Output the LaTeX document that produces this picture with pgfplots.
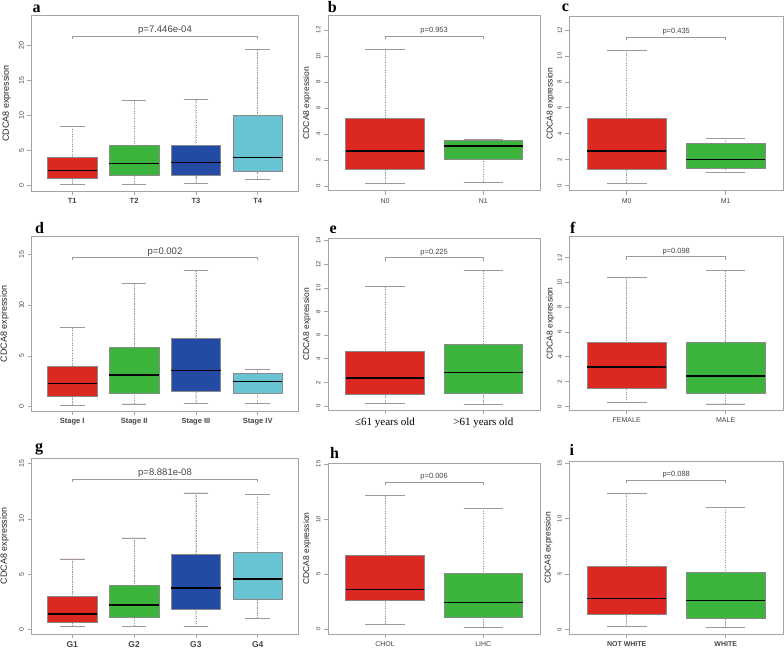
\documentclass[border=0pt]{standalone}
\usepackage{fontspec}
\setmainfont{Liberation Sans}
\newfontfamily\seriffont{Liberation Serif}
\usepackage{pgfplots}
\pgfplotsset{compat=1.18}
\usepgfplotslibrary{statistics}
\newcommand\fs[1]{\fontsize{#1}{#1}\selectfont}
\definecolor{cred}{HTML}{DC2823}
\definecolor{cgreen}{HTML}{3CB43C}
\definecolor{cblue}{HTML}{234BA5}
\definecolor{ccyan}{HTML}{69C3D2}
\definecolor{framegray}{HTML}{A8A39D}
\definecolor{whiskgray}{HTML}{9A9A9A}
\definecolor{boxgray}{HTML}{8A8A8A}
\definecolor{txtgray}{HTML}{454545}
\tikzset{
  whiskline/.style={draw=whiskgray, line width=0.7pt, dash pattern=on 1.2pt off 1.3pt},
  capline/.style={draw=whiskgray, line width=0.9pt, solid},
  brk/.style={draw=whiskgray, line width=0.8pt, solid},
  plab/.style={font=\seriffont\bfseries\fs{16}, anchor=base west, inner sep=0pt},
}
\pgfplotsset{
  boxplot/draw/lower whisker/.code={%
    \draw[whiskline] (boxplot cs:\pgfplotsboxplotvalue{lower whisker}) -- (boxplot cs:\pgfplotsboxplotvalue{lower quartile});
    \draw[capline] (boxplot whisker cs:\pgfplotsboxplotvalue{lower whisker},0) -- (boxplot whisker cs:\pgfplotsboxplotvalue{lower whisker},1);
  },
  boxplot/draw/upper whisker/.code={%
    \draw[whiskline] (boxplot cs:\pgfplotsboxplotvalue{upper whisker}) -- (boxplot cs:\pgfplotsboxplotvalue{upper quartile});
    \draw[capline] (boxplot whisker cs:\pgfplotsboxplotvalue{upper whisker},0) -- (boxplot whisker cs:\pgfplotsboxplotvalue{upper whisker},1);
  },
  rbase/.style={
    scale only axis, anchor=north west, clip=false,
    axis line style={draw=framegray, line width=0.9pt},
    tick style={draw=framegray, line width=0.7pt},
    tick align=outside, major tick length=4pt,
    xtick pos=left, ytick pos=left,
    /pgf/number format/assume math mode=true,
    yticklabel style={rotate=90, anchor=south, text=txtgray},
    xticklabel style={text=txtgray},
    boxplot/draw direction=y,
    boxplot/box extend=0.8, boxplot/whisker extend=0.4,
    boxplot/every median/.style={draw=black, line width=1.5pt},
    ylabel={CDCA8 expression},
  },
  ylab/.style 2 args={every axis y label/.style={at={(axis description cs:0,0.5)}, xshift=-#1, rotate=90, anchor=center, font=\fs{#2}, text=black!85}},
  wide/.style={rbase, width=267pt, xmin=0.34, xmax=4.66, xtick={1,2,3,4},
    yticklabel style={font=\fs{7}}, xticklabel style={font=\bfseries\fs{7.5}}},
  narrow/.style={rbase, xmin=0.42, xmax=2.58, xtick={1,2},
    yticklabel style={font=\fs{6}}, xticklabel style={font=\fs{7}}},
}
\tikzset{
  pbig/.style={font=\fs{9.5}, text=txtgray, anchor=base, yshift=3.3pt, inner sep=0pt},
  psmall/.style={font=\fs{7.5}, text=txtgray, anchor=base, yshift=3.5pt, inner sep=0pt},
}
\begin{document}
\begin{tikzpicture}
\useasboundingbox (0,0) rectangle (784pt,649pt);

% ---------- a ----------
\begin{axis}[wide, at={(31.5pt,633.3pt)}, height=175.3pt, ymin=-0.76, ymax=24.29,
  ytick={0,5,10,15,20}, xticklabels={T1,T2,T3,T4}, ylab={25pt}{9}]
\addplot[fill=cred, draw=boxgray, boxplot prepared={draw position=1, lower whisker=0.2, lower quartile=1.0, median=2.2, upper quartile=4.05, upper whisker=8.49}] coordinates {};
\addplot[fill=cgreen, draw=boxgray, boxplot prepared={draw position=2, lower whisker=0.2, lower quartile=1.43, median=3.2, upper quartile=5.81, upper whisker=12.14}] coordinates {};
\addplot[fill=cblue, draw=boxgray, boxplot prepared={draw position=3, lower whisker=0.3, lower quartile=1.43, median=3.33, upper quartile=5.81, upper whisker=12.3}] coordinates {};
\addplot[fill=ccyan, draw=boxgray, boxplot prepared={draw position=4, lower whisker=0.9, lower quartile=2.0, median=4.05, upper quartile=10.1, upper whisker=19.4}] coordinates {};
\addplot[brk, mark=none] coordinates {(1,20.97) (1,21.4) (4,21.4) (4,20.97)};
\node[pbig] at (axis cs:2.5,21.4) {p=7.446e-04};
\end{axis}

% ---------- b ----------
\begin{axis}[narrow, at={(328pt,633.3pt)}, width=212.3pt, height=175pt, ymin=-0.36, ymax=13.1,
  ytick={0,2,...,12}, xticklabels={N0,N1}, ylab={21pt}{8.5}]
\addplot[fill=cred, draw=boxgray, boxplot prepared={draw position=1, lower whisker=0.18, lower quartile=1.26, median=2.69, upper quartile=5.18, upper whisker=10.49}] coordinates {};
\addplot[fill=cgreen, draw=boxgray, boxplot prepared={draw position=2, lower whisker=0.28, lower quartile=2.1, median=3.08, upper quartile=3.54, upper whisker=3.58}] coordinates {};
\addplot[brk, mark=none] coordinates {(1,11.31) (1,11.54) (2,11.54) (2,11.31)};
\node[psmall] at (axis cs:1.5,11.54) {p=0.953};
\end{axis}

% ---------- c ----------
\begin{axis}[narrow, at={(569.3pt,632.3pt)}, width=213.8pt, height=174pt, ymin=-0.39, ymax=13.03,
  ytick={0,2,...,12}, xticklabels={M0,M1}, ylab={19pt}{8.5}]
\addplot[fill=cred, draw=boxgray, boxplot prepared={draw position=1, lower whisker=0.2, lower quartile=1.3, median=2.68, upper quartile=5.22, upper whisker=10.46}] coordinates {};
\addplot[fill=cgreen, draw=boxgray, boxplot prepared={draw position=2, lower whisker=0.98, lower quartile=1.36, median=2.03, upper quartile=3.26, upper whisker=3.67}] coordinates {};
\addplot[brk, mark=none] coordinates {(1,11.23) (1,11.46) (2,11.46) (2,11.23)};
\node[psmall] at (axis cs:1.5,11.46) {p=0.435};
\end{axis}

% ---------- d ----------
\begin{axis}[wide, at={(31.5pt,412.3pt)}, height=174.3pt, ymin=-0.42, ymax=16.73,
  ytick={0,5,10,15}, xticklabels={Stage I,Stage II,Stage III,Stage IV}, ylab={27pt}{9}]
\addplot[fill=cred, draw=boxgray, boxplot prepared={draw position=1, lower whisker=0.17, lower quartile=1.08, median=2.3, upper quartile=4.0, upper whisker=7.78}] coordinates {};
\addplot[fill=cgreen, draw=boxgray, boxplot prepared={draw position=2, lower whisker=0.27, lower quartile=1.38, median=3.12, upper quartile=5.9, upper whisker=12.14}] coordinates {};
\addplot[fill=cblue, draw=boxgray, boxplot prepared={draw position=3, lower whisker=0.33, lower quartile=1.52, median=3.58, upper quartile=6.73, upper whisker=13.42}] coordinates {};
\addplot[fill=ccyan, draw=boxgray, boxplot prepared={draw position=4, lower whisker=0.33, lower quartile=1.35, median=2.46, upper quartile=3.29, upper whisker=3.68}] coordinates {};
\addplot[brk, mark=none] coordinates {(1,14.4) (1,14.7) (4,14.7) (4,14.4)};
\node[pbig] at (axis cs:2.5,14.7) {p=0.002};
\end{axis}

% ---------- e ----------
\begin{axis}[narrow, at={(328pt,410.7pt)}, width=212.3pt, height=172pt, ymin=-0.36, ymax=14.2,
  ytick={0,2,...,14}, xticklabels={≤61 years old,>61 years old}, ylab={21pt}{8.5},
  xticklabel style={font=\seriffont\fs{11}, text=black}]
\addplot[fill=cred, draw=boxgray, boxplot prepared={draw position=1, lower whisker=0.23, lower quartile=1.04, median=2.37, upper quartile=4.66, upper whisker=10.1}] coordinates {};
\addplot[fill=cgreen, draw=boxgray, boxplot prepared={draw position=2, lower whisker=0.17, lower quartile=1.1, median=2.82, upper quartile=5.25, upper whisker=11.46}] coordinates {};
\addplot[brk, mark=none] coordinates {(1,12.31) (1,12.56) (2,12.56) (2,12.31)};
\node[psmall] at (axis cs:1.5,12.56) {p=0.225};
\end{axis}

% ---------- f ----------
\begin{axis}[narrow, at={(569.3pt,412.3pt)}, width=213.8pt, height=173.6pt, ymin=-0.32, ymax=13.7,
  ytick={0,2,...,12}, xticklabels={FEMALE,MALE}, ylab={19pt}{8.5}]
\addplot[fill=cred, draw=boxgray, boxplot prepared={draw position=1, lower whisker=0.29, lower quartile=1.48, median=3.17, upper quartile=5.19, upper whisker=10.42}] coordinates {};
\addplot[fill=cgreen, draw=boxgray, boxplot prepared={draw position=2, lower whisker=0.19, lower quartile=1.07, median=2.47, upper quartile=5.14, upper whisker=10.98}] coordinates {};
\addplot[brk, mark=none] coordinates {(1,11.84) (1,12.08) (2,12.08) (2,11.84)};
\node[psmall] at (axis cs:1.5,12.08) {p=0.098};
\end{axis}

% ---------- g ----------
\begin{axis}[wide, at={(31.5pt,190.7pt)}, height=175.7pt, ymin=-0.43, ymax=15.49,
  ytick={0,5,10,15}, xticklabels={G1,G2,G3,G4}, ylab={27pt}{9},
  xticklabel style={font=\bfseries\fs{8.5}}]
\addplot[fill=cred, draw=boxgray, boxplot prepared={draw position=1, lower whisker=0.27, lower quartile=0.6, median=1.36, upper quartile=3.02, upper whisker=6.37}] coordinates {};
\addplot[fill=cgreen, draw=boxgray, boxplot prepared={draw position=2, lower whisker=0.27, lower quartile=1.09, median=2.2, upper quartile=4.01, upper whisker=8.27}] coordinates {};
\addplot[fill=cblue, draw=boxgray, boxplot prepared={draw position=3, lower whisker=0.21, lower quartile=1.81, median=3.74, upper quartile=6.76, upper whisker=12.35}] coordinates {};
\addplot[fill=ccyan, draw=boxgray, boxplot prepared={draw position=4, lower whisker=0.96, lower quartile=2.72, median=4.56, upper quartile=6.94, upper whisker=12.23}] coordinates {};
\addplot[brk, mark=none] coordinates {(1,13.33) (1,13.6) (4,13.6) (4,13.33)};
\node[pbig] at (axis cs:2.5,13.6) {p=8.881e-08};
\end{axis}

% ---------- h ----------
\begin{axis}[narrow, at={(328pt,185.7pt)}, width=212.3pt, height=170.7pt, ymin=-0.43, ymax=15.06,
  ytick={0,5,10,15}, xticklabels={CHOL,LIHC}, ylab={21pt}{8.5}]
\addplot[fill=cred, draw=boxgray, boxplot prepared={draw position=1, lower whisker=0.45, lower quartile=2.66, median=3.63, upper quartile=6.68, upper whisker=12.12}] coordinates {};
\addplot[fill=cgreen, draw=boxgray, boxplot prepared={draw position=2, lower whisker=0.15, lower quartile=1.05, median=2.45, upper quartile=5.11, upper whisker=10.98}] coordinates {};
\addplot[brk, mark=none] coordinates {(1,13.07) (1,13.34) (2,13.34) (2,13.07)};
\node[psmall] at (axis cs:1.5,13.34) {p=0.006};
\end{axis}

% ---------- i ----------
\begin{axis}[narrow, at={(569.3pt,187.3pt)}, width=213.8pt, height=172.3pt, ymin=-0.39, ymax=15.15,
  ytick={0,5,10,15}, xticklabels={NOT WHITE,WHITE}, ylab={21pt}{8.5},
  xticklabel style={font=\bfseries\fs{7}}]
\addplot[fill=cred, draw=boxgray, boxplot prepared={draw position=1, lower whisker=0.27, lower quartile=1.39, median=2.8, upper quartile=5.77, upper whisker=12.26}] coordinates {};
\addplot[fill=cgreen, draw=boxgray, boxplot prepared={draw position=2, lower whisker=0.18, lower quartile=1.05, median=2.62, upper quartile=5.14, upper whisker=11.06}] coordinates {};
\addplot[brk, mark=none] coordinates {(1,13.2) (1,13.47) (2,13.47) (2,13.2)};
\node[psmall] at (axis cs:1.5,13.47) {p=0.088};
\end{axis}

% panel letters
\node[plab] at (32.3pt,636.7pt) {a};
\node[plab] at (327.7pt,636.3pt) {b};
\node[plab] at (561.7pt,637.3pt) {c};
\node[plab] at (35pt,415pt) {d};
\node[plab] at (329.3pt,415.7pt) {e};
\node[plab] at (570pt,415.7pt) {f};
\node[plab] at (35pt,197.3pt) {g};
\node[plab] at (330pt,190.7pt) {h};
\node[plab] at (569.3pt,194pt) {i};
\end{tikzpicture}
\end{document}
